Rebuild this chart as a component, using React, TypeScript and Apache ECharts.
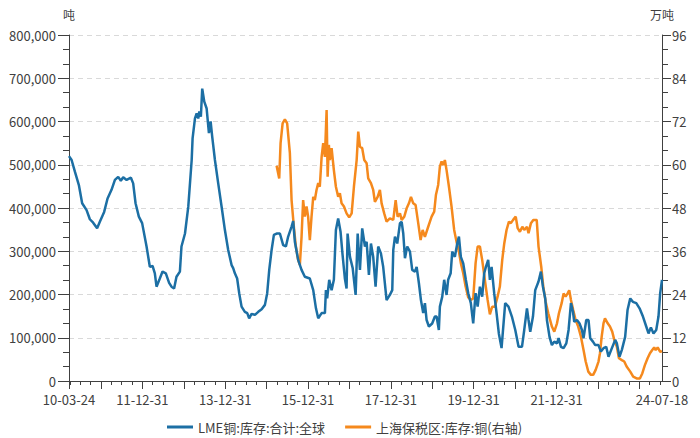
import React, { useEffect, useRef } from "react";
import * as echarts from "echarts";

const lmeDates = [
  "2010-03-24","2010-04-16","2010-05-15","2010-06-19","2010-07-18","2010-08-26","2010-09-24","2010-10-23","2010-11-27","2010-12-21",
  "2011-01-28","2011-02-27","2011-04-03","2011-05-03","2011-06-01","2011-06-24","2011-07-15","2011-08-14","2011-09-21","2011-10-11","2011-11-01","2011-11-30","2011-12-29",
  "2012-02-06","2012-03-06","2012-03-30","2012-04-19","2012-05-04","2012-06-02","2012-06-26","2012-07-25","2012-08-23","2012-09-13","2012-10-06","2012-10-27","2012-11-26","2012-12-10",
  "2013-01-10","2013-02-08","2013-03-10","2013-03-18","2013-04-08","2013-04-23","2013-05-07","2013-05-16","2013-05-30","2013-06-11","2013-06-29","2013-07-20","2013-08-09","2013-08-24","2013-09-07","2013-10-01","2013-10-30","2013-11-29","2013-12-28",
  "2014-01-26","2014-02-25","2014-03-11","2014-03-26","2014-04-15","2014-05-03","2014-05-24","2014-06-22","2014-07-13","2014-07-30","2014-08-20","2014-09-19","2014-10-18","2014-11-17","2014-12-16",
  "2015-01-05","2015-01-23","2015-02-13","2015-03-05","2015-03-29","2015-04-27","2015-05-26","2015-06-19","2015-07-09","2015-08-08","2015-08-22","2015-09-06","2015-10-05","2015-11-04","2015-12-03",
  "2016-01-16","2016-02-15","2016-03-10","2016-03-30","2016-04-29","2016-05-28","2016-06-06","2016-06-17","2016-07-05","2016-07-26","2016-08-15","2016-09-02","2016-09-22","2016-10-13","2016-10-31","2016-11-20","2016-12-05","2016-12-14",
  "2017-01-04","2017-01-28","2017-02-23","2017-03-13","2017-04-02","2017-04-22","2017-05-16","2017-05-31","2017-06-20","2017-07-08","2017-07-28","2017-08-18","2017-09-10","2017-10-04","2017-10-24","2017-11-23","2017-12-22",
  "2018-01-12","2018-01-21","2018-02-05","2018-02-25","2018-03-21","2018-04-05","2018-04-19","2018-05-04","2018-05-24","2018-06-17","2018-07-07","2018-07-31","2018-08-15","2018-09-04","2018-09-22","2018-10-12","2018-10-27","2018-11-11","2018-12-01","2018-12-30",
  "2019-01-23","2019-02-07","2019-02-27","2019-03-08","2019-03-29","2019-04-15","2019-05-06","2019-05-20","2019-06-11","2019-06-25","2019-07-18","2019-08-11","2019-08-23","2019-09-09","2019-09-30","2019-10-23","2019-11-13","2019-12-06","2019-12-27",
  "2020-01-17","2020-02-04","2020-02-24","2020-03-15","2020-04-02","2020-04-17","2020-05-07","2020-05-22","2020-06-06","2020-06-29","2020-07-20","2020-08-09","2020-09-02","2020-10-04","2020-11-02","2020-12-02",
  "2021-01-01","2021-01-30","2021-03-01","2021-03-21","2021-04-14","2021-04-28","2021-05-13","2021-06-06","2021-06-26","2021-07-25","2021-08-15","2021-09-02","2021-09-22","2021-10-07","2021-10-30","2021-11-20","2021-12-11",
  "2022-01-04","2022-01-18","2022-02-08","2022-03-03","2022-03-27","2022-04-16","2022-05-07","2022-05-25","2022-06-05","2022-06-29","2022-07-22","2022-08-12","2022-08-26","2022-09-19","2022-10-09","2022-10-24","2022-11-17","2022-12-07",
  "2023-01-05","2023-01-26","2023-02-18","2023-03-14","2023-04-03","2023-05-03","2023-06-01","2023-06-16","2023-07-09","2023-07-30","2023-08-28","2023-09-18","2023-10-12","2023-11-04","2023-12-04",
  "2024-01-02","2024-02-01","2024-03-01","2024-03-21","2024-04-11","2024-05-04","2024-05-28","2024-06-17","2024-07-02","2024-07-18",
];

const lmeValues = [
  520000,511000,484000,453000,411000,395000,374000,366000,353000,368000,
  391000,422000,442000,465000,472000,463000,471000,465000,470000,457000,411000,380000,365000,
  311000,264000,266000,249000,218000,237000,253000,249000,227000,218000,214000,241000,253000,311000,
  341000,403000,511000,561000,607000,619000,607000,623000,611000,676000,646000,630000,573000,600000,565000,511000,457000,403000,349000,
  303000,268000,261000,249000,237000,203000,172000,160000,157000,145000,155000,153000,160000,166000,176000,
  203000,257000,303000,338000,341000,341000,314000,311000,334000,357000,370000,322000,280000,257000,241000,
  237000,210000,168000,145000,157000,157000,210000,191000,234000,210000,234000,349000,376000,345000,291000,237000,214000,341000,
  287000,261000,199000,341000,257000,353000,311000,322000,245000,318000,287000,218000,311000,295000,264000,187000,199000,
  210000,303000,334000,318000,365000,368000,341000,284000,311000,299000,257000,253000,264000,226000,187000,157000,180000,141000,126000,133000,
  149000,149000,118000,172000,195000,234000,199000,234000,249000,299000,287000,322000,334000,287000,272000,234000,203000,180000,133000,
  203000,172000,218000,195000,249000,264000,280000,234000,264000,203000,157000,110000,76000,180000,172000,149000,
  118000,79000,79000,118000,168000,141000,114000,149000,210000,230000,253000,218000,191000,141000,102000,83000,91000,
  87000,99000,79000,76000,87000,118000,180000,160000,137000,141000,133000,118000,99000,141000,141000,99000,91000,83000,
  83000,68000,76000,79000,56000,76000,95000,87000,56000,72000,102000,164000,191000,183000,180000,
  168000,149000,126000,110000,124000,110000,118000,149000,203000,234000,
];

const bondedDates = [
  "2015-03-29","2015-04-21","2015-05-03","2015-05-21","2015-06-10","2015-06-30","2015-07-24","2015-08-08","2015-08-28","2015-09-15","2015-10-05","2015-10-20","2015-11-04","2015-11-18","2015-12-03","2015-12-18",
  "2016-01-01","2016-01-16","2016-01-31","2016-02-15","2016-02-29","2016-03-15","2016-03-30","2016-04-13","2016-04-29","2016-05-13","2016-05-28","2016-06-12","2016-06-21","2016-07-02","2016-07-11","2016-07-26","2016-08-15","2016-09-02","2016-09-22","2016-10-07","2016-10-22","2016-11-12","2016-12-05","2016-12-28",
  "2017-01-19","2017-02-08","2017-03-04","2017-03-18","2017-04-02","2017-04-22","2017-05-10","2017-05-31","2017-06-14","2017-07-08","2017-07-28","2017-08-12","2017-09-05","2017-09-25","2017-10-10","2017-11-02","2017-11-23","2017-12-22",
  "2018-01-21","2018-02-11","2018-02-28","2018-03-21","2018-04-05","2018-04-28","2018-05-19","2018-06-08","2018-06-26","2018-07-16","2018-08-06","2018-08-29","2018-09-19","2018-10-07","2018-10-27","2018-11-25","2018-12-25",
  "2019-01-17","2019-02-01","2019-02-21","2019-03-08","2019-03-23","2019-04-06","2019-04-21","2019-05-06","2019-05-27","2019-06-19","2019-07-12","2019-08-02","2019-08-23","2019-09-09","2019-09-30","2019-10-21","2019-11-13","2019-12-06","2019-12-27",
  "2020-01-17","2020-02-04","2020-02-24","2020-03-15","2020-04-08","2020-05-02","2020-05-22","2020-06-11","2020-07-05","2020-07-29","2020-08-18","2020-09-08","2020-09-25","2020-10-16","2020-11-06","2020-11-23","2020-12-13",
  "2021-01-05","2021-01-22","2021-02-11","2021-03-04","2021-03-21","2021-04-14","2021-04-28","2021-05-19","2021-06-09","2021-07-09","2021-07-25","2021-08-18","2021-09-05","2021-09-26","2021-10-19","2021-11-20","2021-12-11",
  "2022-01-04","2022-01-21","2022-02-14","2022-03-03","2022-03-21","2022-04-08","2022-04-22","2022-05-07","2022-05-27","2022-06-17","2022-07-10","2022-08-03","2022-08-26","2022-09-14","2022-10-07","2022-10-30","2022-11-19","2022-12-11",
  "2023-01-05","2023-01-18","2023-02-02","2023-02-18","2023-03-03","2023-03-27","2023-04-16","2023-05-06","2023-05-24","2023-06-16","2023-07-04","2023-07-30","2023-08-20","2023-09-10","2023-10-12","2023-11-07","2023-12-07",
  "2024-01-05","2024-01-26","2024-02-18","2024-03-13","2024-04-03","2024-04-23","2024-05-10","2024-05-23","2024-06-10","2024-07-02","2024-07-18",
];

const bondedValues = [
  59.7,56.2,66,71.5,72.6,71.5,63.2,50.2,42.8,37.3,33.6,32.2,40,50.2,45.6,48.4,
  45.6,39.1,45.6,51.1,50.2,53,54.9,53.9,62.2,66,62.2,75.2,56.7,65.5,61.3,64.6,58.5,53.9,51.1,52.1,49.3,48.4,46.5,45.4,
  46.5,53.9,61.3,69.2,65,64.6,61.3,60.4,56.2,54.9,53,49.7,51.1,53,49.3,46.5,44.2,45.1,
  44.7,50.2,45.6,46.5,44.7,45.6,47.9,49.3,51.1,49.3,48.8,43.8,39.1,41.9,40,42.8,45.6,
  47,51.6,54.4,59.5,60.9,59.9,61.3,58.5,53.9,48.4,41.9,38.6,35.9,32.7,29.9,26.2,23.2,22.5,22.9,
  32.7,37.3,37.3,33.6,28,22.5,18.5,20.6,20.6,23.4,26.2,33.6,38,41.9,44.2,43.8,44.7,
  45.6,42.4,41.4,42.8,41.9,42.8,41,43.8,44.7,44.7,37.3,31.7,26.2,22,18.8,15.1,13.7,
  16,18.8,21.6,24.3,23.4,24.3,25.2,22.5,19.7,16.9,15.1,12.3,8.6,5.4,2.6,1.7,1.7,3.1,
  5.4,7.7,12.3,16,17.4,16,15.1,13.7,11.4,9.5,6.3,5.8,5.4,4,2.6,1.2,0.7,
  0.7,2.1,4.4,6.3,7.7,8.6,9.3,8.6,9.3,8.1,8.3,
];

const xStart = "2010-03-24";
const xEnd = "2024-07-18";
const xLabelDates = ["2010-03-24","2011-12-31","2013-12-31","2015-12-31","2017-12-31","2019-12-31","2021-12-31","2024-07-18"];
const yearTickDates = ["2010-03-24","2010-12-31","2011-12-31","2012-12-31","2013-12-31","2014-12-31","2015-12-31","2016-12-31","2017-12-31","2018-12-31","2019-12-31","2020-12-31","2021-12-31","2022-12-31","2023-12-31"];
const quarterTickDates = (() => {
  const out: string[] = [];
  for (let y = 2010; y <= 2024; y++) {
    for (const md of ["03-31", "06-30", "09-30"]) out.push(`${y}-${md}`);
  }
  return out;
})();

const seriesNames = ["LME铜:库存:合计:全球", "上海保税区:库存:铜(右轴)"];

const ts = (s: string) => {
  const [y, m, d] = s.split("-").map(Number);
  return Date.UTC(y, m - 1, d);
};
const pad = (n: number) => (n < 10 ? "0" + n : "" + n);

const FONT = "'Noto Sans CJK SC', 'Noto Sans', sans-serif";
const TEXT = "#404040";
const AXIS = "#404040";

export default function App() {
  const ref = useRef<HTMLDivElement>(null);
  useEffect(() => {
    document.body.style.margin = "0";
    if (!ref.current) return;
    const chart = echarts.init(ref.current, undefined, { renderer: "svg" });
    const tMin = ts(xStart);
    const tMax = ts(xEnd);
    chart.setOption({
      animation: false,
      textStyle: { fontFamily: FONT },
      grid: { left: 69, right: 38, top: 35, bottom: 57 },
      legend: {
        left: 167,
        top: 420,
        padding: 0,
        icon: "rect",
        itemWidth: 26,
        itemHeight: 3,
        itemGap: 20,
        textStyle: { fontSize: 13, lineHeight: 14, color: TEXT, fontFamily: FONT },
        data: seriesNames,
      },
      xAxis: [
        {
          type: "value",
          min: tMin,
          max: tMax,
          axisLine: { show: true, lineStyle: { color: AXIS, width: 1 } },
          axisTick: {
            show: true,
            length: 8,
            customValues: yearTickDates.map(ts),
            lineStyle: { color: AXIS },
          },
          axisLabel: {
            show: true,
            margin: 11,
            fontSize: 13,
            lineHeight: 14,
            color: TEXT,
            fontFamily: FONT,
            customValues: xLabelDates.map(ts),
            showMinLabel: true,
            showMaxLabel: true,
            formatter: (v: number) => {
              const d = new Date(v);
              return `${String(d.getUTCFullYear()).slice(2)}-${pad(d.getUTCMonth() + 1)}-${pad(d.getUTCDate())}`;
            },
          },
          splitLine: { show: false },
        },
        {
          type: "value",
          min: tMin,
          max: tMax,
          position: "bottom",
          axisLine: { show: false },
          axisTick: {
            show: true,
            length: 4,
            customValues: quarterTickDates.map(ts).filter((t) => t >= tMin && t <= tMax),
            lineStyle: { color: AXIS },
          },
          axisLabel: { show: false },
          splitLine: { show: false },
        },
      ],
      yAxis: [
        {
          type: "value",
          min: 0,
          max: 800000,
          interval: 100000,
          name: "吨",
          nameLocation: "end",
          nameGap: 15,
          nameTextStyle: { color: TEXT, fontSize: 12, fontFamily: FONT },
          axisLine: { show: true, lineStyle: { color: AXIS } },
          axisTick: { show: true, length: 11, lineStyle: { color: AXIS } },
          minorTick: { show: true, splitNumber: 3, length: 6, lineStyle: { color: AXIS } },
          axisLabel: {
            fontSize: 13,
            lineHeight: 14,
            color: TEXT,
            margin: 13,
            fontFamily: FONT,
            formatter: (v: number) => v.toLocaleString("en-US"),
          },
          splitLine: { show: true, lineStyle: { color: "#d9d9d9", type: [5, 4], width: 1 } },
        },
        {
          type: "value",
          min: 0,
          max: 96,
          interval: 12,
          position: "right",
          name: "万吨",
          nameLocation: "end",
          nameGap: 15,
          nameTextStyle: { color: TEXT, fontSize: 12, fontFamily: FONT },
          axisLine: { show: true, lineStyle: { color: AXIS } },
          axisTick: { show: true, length: 9, lineStyle: { color: AXIS } },
          minorTick: { show: true, splitNumber: 3, length: 6, lineStyle: { color: AXIS } },
          axisLabel: { fontSize: 13, lineHeight: 14, color: TEXT, margin: 10, fontFamily: FONT },
          splitLine: { show: false },
        },
      ],
      series: [
        {
          name: seriesNames[0],
          type: "line",
          xAxisIndex: 0,
          yAxisIndex: 0,
          showSymbol: false,
          symbol: "none",
          color: "#1c6fa4",
          lineStyle: { width: 2.5, color: "#1c6fa4" },
          data: lmeDates.map((d, i) => [ts(d), lmeValues[i]]),
          z: 3,
        },
        {
          name: seriesNames[1],
          type: "line",
          xAxisIndex: 0,
          yAxisIndex: 1,
          showSymbol: false,
          symbol: "none",
          color: "#f5891d",
          lineStyle: { width: 2.5, color: "#f5891d" },
          data: bondedDates.map((d, i) => [ts(d), bondedValues[i]]),
          z: 2,
        },
      ],
    });
    return () => chart.dispose();
  }, []);
  return <div ref={ref} style={{ width: 700, height: 438 }} />;
}
